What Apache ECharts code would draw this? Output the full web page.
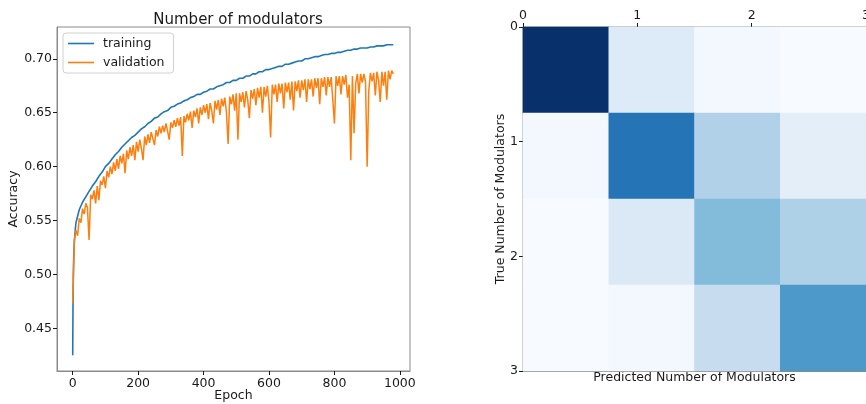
<!DOCTYPE html>
<html>
<head>
<meta charset="utf-8">
<script src="https://cdn.jsdelivr.net/npm/echarts@6/dist/echarts.min.js"></script>
<style>
  html, body { margin: 0; padding: 0; background: #fff; }
  #chart { width: 866px; height: 404px; }
</style>
</head>
<body>
<div id="chart"></div>
<script>
// accuracy of the training run
const trainEarlyEpochs = [0, 1, 2, 3, 5, 8];
const trainEarlyAcc = [0.425, 0.475, 0.500, 0.515, 0.530, 0.542];
// training accuracy every 10 epochs, from epoch 10 to 980
const trainAcc = [
  0.548, 0.560, 0.567, 0.572, 0.577, 0.582, 0.586, 0.591, 0.595, 0.600,
  0.603, 0.607, 0.611, 0.614, 0.618, 0.621, 0.624, 0.627, 0.629, 0.632,
  0.635, 0.637, 0.640, 0.642, 0.645, 0.646, 0.649, 0.651, 0.652, 0.655,
  0.656, 0.658, 0.659, 0.661, 0.662, 0.664, 0.665, 0.667, 0.667, 0.669,
  0.670, 0.672, 0.672, 0.674, 0.675, 0.676, 0.678, 0.678, 0.680, 0.680,
  0.682, 0.682, 0.684, 0.684, 0.686, 0.686, 0.688, 0.688, 0.690, 0.690,
  0.691, 0.692, 0.693, 0.693, 0.695, 0.695, 0.696, 0.697, 0.698, 0.698,
  0.700, 0.700, 0.701, 0.702, 0.702, 0.703, 0.704, 0.704, 0.705, 0.705,
  0.706, 0.706, 0.707, 0.708, 0.708, 0.709, 0.709, 0.710, 0.710, 0.710,
  0.711, 0.711, 0.712, 0.712, 0.712, 0.713, 0.713, 0.713
];
// validation accuracy every 5 epochs, from epoch 0 to 980
const valAcc = [
  0.473, 0.532, 0.541, 0.536, 0.552, 0.548, 0.561, 0.556, 0.566, 0.562,
  0.532, 0.574, 0.570, 0.578, 0.566, 0.582, 0.569, 0.587, 0.583, 0.591,
  0.580, 0.596, 0.590, 0.600, 0.593, 0.604, 0.596, 0.607, 0.598, 0.610,
  0.603, 0.612, 0.594, 0.615, 0.607, 0.618, 0.610, 0.620, 0.606, 0.623,
  0.614, 0.625, 0.617, 0.606, 0.628, 0.620, 0.630, 0.622, 0.632, 0.626,
  0.620, 0.634, 0.628, 0.637, 0.631, 0.638, 0.632, 0.640, 0.633, 0.625,
  0.641, 0.636, 0.643, 0.637, 0.645, 0.638, 0.646, 0.610, 0.647, 0.641,
  0.649, 0.643, 0.651, 0.636, 0.652, 0.646, 0.654, 0.640, 0.655, 0.648,
  0.657, 0.650, 0.658, 0.644, 0.659, 0.652, 0.640, 0.661, 0.653, 0.662,
  0.648, 0.663, 0.656, 0.664, 0.650, 0.621, 0.665, 0.658, 0.667, 0.652,
  0.668, 0.625, 0.668, 0.660, 0.669, 0.655, 0.670, 0.662, 0.645, 0.671,
  0.663, 0.672, 0.657, 0.673, 0.664, 0.674, 0.650, 0.674, 0.665, 0.675,
  0.660, 0.627, 0.676, 0.667, 0.676, 0.660, 0.677, 0.668, 0.677, 0.654,
  0.678, 0.669, 0.678, 0.662, 0.679, 0.652, 0.679, 0.670, 0.680, 0.664,
  0.680, 0.671, 0.681, 0.660, 0.681, 0.672, 0.681, 0.665, 0.682, 0.673,
  0.682, 0.658, 0.682, 0.674, 0.683, 0.666, 0.683, 0.674, 0.683, 0.662,
  0.640, 0.684, 0.675, 0.684, 0.667, 0.684, 0.676, 0.685, 0.664, 0.676,
  0.606, 0.684, 0.631, 0.677, 0.686, 0.668, 0.686, 0.678, 0.686, 0.679,
  0.600, 0.670, 0.687, 0.679, 0.687, 0.666, 0.688, 0.680, 0.660, 0.688,
  0.675, 0.688, 0.662, 0.689, 0.681, 0.689, 0.686
];
const epochTicks = [0, 200, 400, 600, 800, 1000];
const accTicks = [0.45, 0.50, 0.55, 0.60, 0.65, 0.70];

// confusion matrix (rows = true, cols = predicted)
const classLabels = ['0', '1', '2', '3'];
const confusion = [
  [1.00, 0.13, 0.02, 0.00],
  [0.02, 0.74, 0.32, 0.10],
  [0.00, 0.14, 0.44, 0.325],
  [0.00, 0.025, 0.245, 0.59]
];
const matrixTicks = [0, 1, 2, 3];

const blues = ['#f7fbff', '#deebf7', '#c6dbef', '#9ecae1', '#6baed6',
  '#4292c6', '#2171b5', '#08519c', '#08306b'];

const trainData = trainEarlyEpochs.map((e, i) => [e, trainEarlyAcc[i]])
  .concat(trainAcc.map((v, i) => [(i + 1) * 10, v]));
const valData = valAcc.map((v, i) => [i * 5, v]);
const cells = [];
confusion.forEach((row, r) => row.forEach((v, c) => cells.push([c, r, v])));

const font = 'DejaVu Sans';
const ink = '#1a1a1a';
const spine = '#8a8a8a';

const chart = echarts.init(document.getElementById('chart'));
chart.setOption({
  animation: false,
  textStyle: {fontFamily: font, color: ink},
  title: {
    text: 'Number of modulators',
    left: 233, top: 8, textAlign: 'center',
    textStyle: {fontFamily: font, fontSize: 15, fontWeight: 'normal', color: ink}
  },
  legend: {
    left: 63, top: 33,
    orient: 'vertical',
    icon: 'rect', itemWidth: 26, itemHeight: 1.6, itemGap: 6,
    padding: [4, 9, 4, 5],
    borderColor: '#d0d0d0', borderWidth: 1, borderRadius: 3,
    backgroundColor: 'rgba(255,255,255,0.8)',
    textStyle: {fontFamily: font, fontSize: 12.5, color: ink, lineHeight: 13, padding: [0, 0, 0, 4]},
    data: ['training', 'validation']
  },
  visualMap: {
    show: false, type: 'continuous', seriesIndex: 2, dimension: 2,
    min: 0, max: 1, inRange: {color: blues}
  },
  grid: [
    {left: 57, right: 456, top: 27, bottom: 33, show: true, borderColor: spine, borderWidth: 1, outerBoundsMode: 'none'},
    {left: 523, right: 0, top: 27, bottom: 33, show: true, borderColor: spine, borderWidth: 1, outerBoundsMode: 'none'}
  ],
  xAxis: [
    {
      gridIndex: 0, type: 'value', min: -48, max: 1031,
      name: 'Epoch', nameLocation: 'middle', nameGap: 25, nameMoveOverlap: false,
      nameTextStyle: {fontFamily: font, fontSize: 12.5, color: ink, verticalAlign: 'middle'},
      splitLine: {show: false},
      axisLine: {show: true, onZero: false, lineStyle: {color: spine}},
      axisTick: {show: true, length: 4, lineStyle: {color: ink}, customValues: epochTicks},
      axisLabel: {fontFamily: font, fontSize: 12.5, color: ink, margin: 6, customValues: epochTicks,
        formatter: v => String(Math.round(v))}
    },
    {
      gridIndex: 1, type: 'category', data: classLabels, show: false
    },
    {
      gridIndex: 1, type: 'value', min: 0, max: 3, position: 'top',
      splitLine: {show: false},
      axisLine: {show: true, onZero: false, lineStyle: {color: spine}},
      axisTick: {show: true, length: 4, lineStyle: {color: ink}, customValues: matrixTicks},
      axisLabel: {fontFamily: font, fontSize: 12.5, color: ink, margin: 5, customValues: matrixTicks,
        formatter: v => String(Math.round(v))}
    },
    {
      gridIndex: 1, type: 'value', min: 0, max: 3, position: 'bottom',
      name: 'Predicted Number of Modulators', nameLocation: 'middle', nameGap: 7, nameMoveOverlap: false,
      nameTextStyle: {fontFamily: font, fontSize: 12.5, color: ink, verticalAlign: 'middle'},
      splitLine: {show: false},
      axisLine: {show: true, onZero: false, lineStyle: {color: spine}},
      axisTick: {show: true, inside: true, length: 4, lineStyle: {color: ink}, customValues: matrixTicks},
      axisLabel: {show: false}
    }
  ],
  yAxis: [
    {
      gridIndex: 0, type: 'value', min: 0.4105, max: 0.7295,
      name: 'Accuracy', nameLocation: 'middle', nameGap: 43, nameMoveOverlap: false,
      nameTextStyle: {fontFamily: font, fontSize: 12.5, color: ink, verticalAlign: 'middle'},
      splitLine: {show: false},
      axisLine: {show: true, onZero: false, lineStyle: {color: spine}},
      axisTick: {show: true, length: 4, lineStyle: {color: ink}, customValues: accTicks},
      axisLabel: {fontFamily: font, fontSize: 12.5, color: ink, margin: 5, customValues: accTicks,
        formatter: v => v.toFixed(2)}
    },
    {
      gridIndex: 1, type: 'category', data: classLabels, inverse: true, show: false
    },
    {
      gridIndex: 1, type: 'value', min: 0, max: 3, inverse: true, position: 'left',
      name: 'True Number of Modulators', nameLocation: 'middle', nameGap: 22, nameMoveOverlap: false,
      nameTextStyle: {fontFamily: font, fontSize: 12.5, color: ink, verticalAlign: 'middle'},
      splitLine: {show: false},
      axisLine: {show: true, onZero: false, lineStyle: {color: spine}},
      axisTick: {show: true, length: 4, lineStyle: {color: ink}, customValues: matrixTicks},
      axisLabel: {fontFamily: font, fontSize: 12.5, color: ink, margin: 5, customValues: matrixTicks,
        formatter: v => String(Math.round(v))}
    }
  ],
  series: [
    {
      name: 'training', type: 'line', xAxisIndex: 0, yAxisIndex: 0,
      data: trainData, symbol: 'none', color: '#1f77b4',
      lineStyle: {width: 1.6, color: '#1f77b4'}
    },
    {
      name: 'validation', type: 'line', xAxisIndex: 0, yAxisIndex: 0,
      data: valData, symbol: 'none', color: '#ff7f0e',
      lineStyle: {width: 1.5, color: '#ff7f0e'}
    },
    {
      name: 'confusion', type: 'heatmap', xAxisIndex: 1, yAxisIndex: 1,
      data: cells, label: {show: false}
    }
  ]
});
</script>
</body>
</html>
